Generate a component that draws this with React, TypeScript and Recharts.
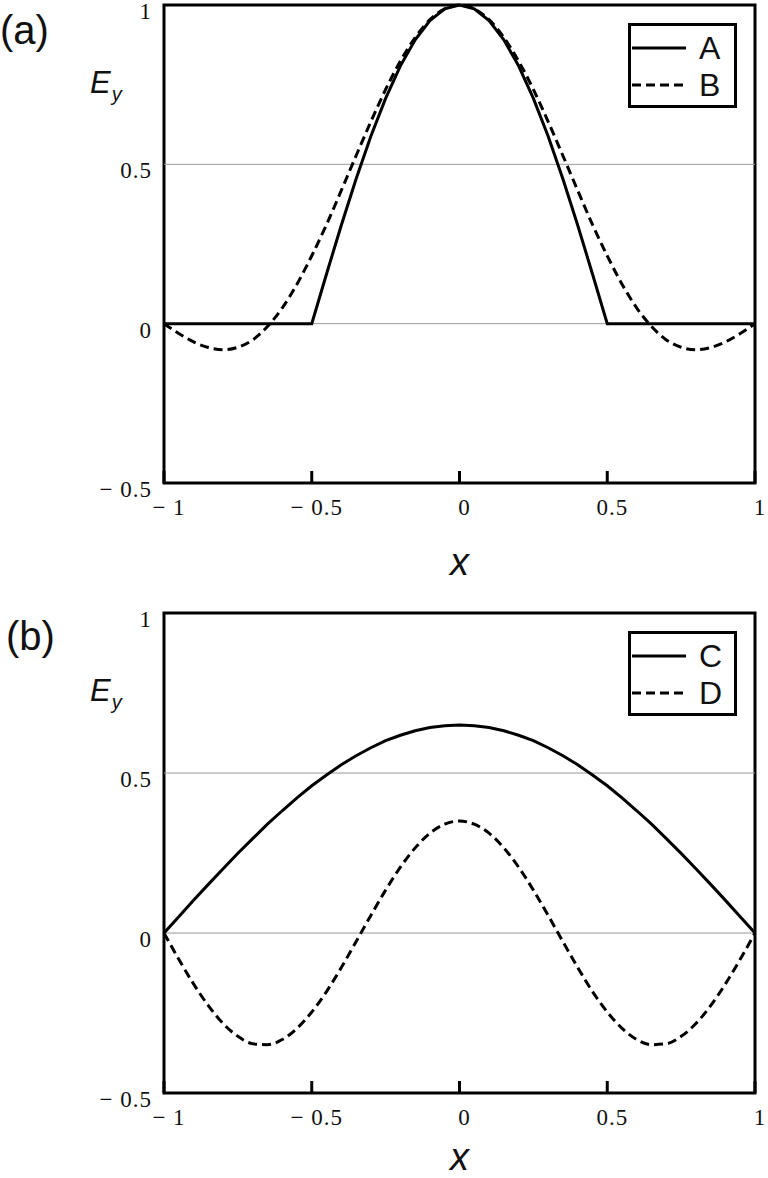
import React from "react";
import { LineChart, Line, XAxis, YAxis, ReferenceLine, ReferenceArea, Legend } from "recharts";

// sample positions along x
const xVals = [
  -1, -0.95, -0.9, -0.85, -0.8, -0.75, -0.7, -0.65, -0.6, -0.55, -0.5,
  -0.45, -0.4, -0.35, -0.3, -0.25, -0.2, -0.15, -0.1, -0.05, 0,
  0.05, 0.1, 0.15, 0.2, 0.25, 0.3, 0.35, 0.4, 0.45, 0.5,
  0.55, 0.6, 0.65, 0.7, 0.75, 0.8, 0.85, 0.9, 0.95, 1,
];

// panel (a)
const seriesA = [
  0, 0, 0, 0, 0, 0, 0, 0, 0, 0, 0,
  0.156, 0.309, 0.454, 0.588, 0.707, 0.809, 0.891, 0.951, 0.988, 1,
  0.988, 0.951, 0.891, 0.809, 0.707, 0.588, 0.454, 0.309, 0.156, 0,
  0, 0, 0, 0, 0, 0, 0, 0, 0, 0,
];
const seriesB = [
  0, -0.031, -0.057, -0.075, -0.082, -0.074, -0.051, -0.009, 0.049, 0.124, 0.213,
  0.311, 0.418, 0.527, 0.634, 0.735, 0.824, 0.898, 0.954, 0.988, 1,
  0.988, 0.954, 0.898, 0.824, 0.735, 0.634, 0.527, 0.418, 0.311, 0.213,
  0.124, 0.049, -0.009, -0.051, -0.074, -0.082, -0.075, -0.057, -0.031, 0,
];

// panel (b)
const seriesC = [
  0, 0.051, 0.102, 0.152, 0.201, 0.249, 0.295, 0.34, 0.382, 0.422, 0.46,
  0.494, 0.526, 0.554, 0.579, 0.601, 0.618, 0.632, 0.642, 0.648, 0.65,
  0.648, 0.642, 0.632, 0.618, 0.601, 0.579, 0.554, 0.526, 0.494, 0.46,
  0.422, 0.382, 0.34, 0.295, 0.249, 0.201, 0.152, 0.102, 0.051, 0,
];
const seriesD = [
  0, -0.082, -0.159, -0.227, -0.283, -0.323, -0.346, -0.349, -0.333, -0.298, -0.247,
  -0.183, -0.108, -0.027, 0.055, 0.134, 0.206, 0.266, 0.312, 0.34, 0.35,
  0.34, 0.312, 0.266, 0.206, 0.134, 0.055, -0.027, -0.108, -0.183, -0.247,
  -0.298, -0.333, -0.349, -0.346, -0.323, -0.283, -0.227, -0.159, -0.082, 0,
];

const xTicks = [-1, -0.5, 0, 0.5, 1];
const xTickLabels = ["− 1", "− 0.5", "0", "0.5", "1"];
const yTicks = [-0.5, 0, 0.5, 1];
const yTickLabels = ["− 0.5", "0", "0.5", "1"];

const serif = '"Liberation Serif", "Times New Roman", serif';
const sans = '"Liberation Sans", Arial, sans-serif';

const dataA = xVals.map((x, i) => ({ x, A: seriesA[i], B: seriesB[i] }));
const dataB = xVals.map((x, i) => ({ x, C: seriesC[i], D: seriesD[i] }));

const BottomTick = (props: any) => {
  const { x, y, payload } = props;
  const label = xTickLabels[xTicks.indexOf(payload.value)];
  return (
    <g>
      <line x1={x} x2={x} y1={y} y2={y - 12} stroke="#000" strokeWidth={3} />
      <text x={x + 5} y={y + 32} textAnchor="middle" fontFamily={serif} fontSize={23} letterSpacing={1} fill="#111">
        {label}
      </text>
    </g>
  );
};

const TopTick = (props: any) => {
  const { x, y } = props;
  return <line x1={x} x2={x} y1={y} y2={y + 12} stroke="#000" strokeWidth={3} />;
};

const LeftTick = (props: any) => {
  const { x, y, payload } = props;
  const label = yTickLabels[yTicks.indexOf(payload.value)];
  return (
    <text x={x - 12} y={y + 14} textAnchor="end" fontFamily={serif} fontSize={23} letterSpacing={1} fill="#111">
      {label}
    </text>
  );
};

const LegendBox = ({ names }: { names: string[] }) => (
  <div
    style={{
      position: "relative",
      width: 109,
      height: 85,
      border: "3px solid #000",
      boxSizing: "border-box",
      background: "#fff",
    }}
  >
    {names.map((n, i) => (
      <div
        key={n}
        style={{
          position: "absolute",
          left: 1,
          top: (i === 0 ? 25 : 62) - 3 - 16,
          height: 32,
          display: "flex",
          alignItems: "center",
        }}
      >
        <svg width={54} height={6} style={{ display: "block" }}>
          <line
            x1={0}
            x2={54}
            y1={3}
            y2={3}
            stroke="#000"
            strokeWidth={3}
            strokeDasharray={i === 0 ? undefined : "9 5"}
          />
        </svg>
        <span style={{ marginLeft: 13, fontFamily: sans, fontSize: 32, lineHeight: "32px", color: "#111" }}>{n}</span>
      </div>
    ))}
  </div>
);

const Panel = ({
  data,
  keys,
  top,
  height,
  xAxisHeight,
  xTitleOffset,
  tag,
  tagLeft,
  tagTop,
}: {
  data: any[];
  keys: string[];
  top: number;
  height: number;
  xAxisHeight: number;
  xTitleOffset: number;
  tag: string;
  tagLeft: number;
  tagTop: number;
}) => (
  <div style={{ position: "absolute", left: 0, top, width: 768, height }}>
    <div
      style={{
        position: "absolute",
        left: tagLeft,
        top: tagTop,
        fontFamily: sans,
        fontSize: 40,
        lineHeight: "40px",
        color: "#111",
        zIndex: 2,
      }}
    >
      {tag}
    </div>
    <LineChart width={768} height={height} data={data} margin={{ top: 5, right: 13, bottom: 0, left: 0 }}>
      <XAxis
        dataKey="x"
        type="number"
        domain={[-1, 1]}
        ticks={xTicks}
        axisLine={false}
        tickLine={false}
        tickSize={0}
        tickMargin={0}
        height={xAxisHeight}
        interval={0}
        tick={<BottomTick />}
        label={{
          content: (p: any) => {
            const vb = p.viewBox;
            return (
              <text
                x={vb.x + vb.width / 2}
                y={vb.y + xTitleOffset}
                textAnchor="middle"
                fontFamily={sans}
                fontStyle="italic"
                fontSize={38}
                fill="#111"
              >
                x
              </text>
            );
          },
        }}
      />
      <XAxis
        xAxisId="top"
        dataKey="x"
        type="number"
        orientation="top"
        domain={[-1, 1]}
        ticks={xTicks}
        axisLine={false}
        tickLine={false}
        tickSize={0}
        tickMargin={0}
        height={0}
        interval={0}
        tick={<TopTick />}
      />
      <YAxis
        type="number"
        domain={[-0.5, 1]}
        ticks={yTicks}
        axisLine={false}
        tickLine={false}
        tickSize={0}
        tickMargin={0}
        width={164}
        interval={0}
        tick={<LeftTick />}
        label={{
          content: (p: any) => {
            const vb = p.viewBox;
            return (
              <text x={90} y={vb.y + 88} fontFamily={sans} fontStyle="italic" fontSize={31} fill="#111">
                E
                <tspan fontSize={20} dy={8} dx={1}>
                  y
                </tspan>
              </text>
            );
          },
        }}
      />
      <ReferenceLine y={0.5} stroke="#9a9a9a" strokeWidth={1} />
      <ReferenceLine y={0} stroke="#9a9a9a" strokeWidth={1} />
      <Line
        dataKey={keys[0]}
        type="linear"
        stroke="#000"
        strokeWidth={3}
        dot={false}
        activeDot={false}
        isAnimationActive={false}
      />
      <Line
        dataKey={keys[1]}
        type="monotone"
        stroke="#000"
        strokeWidth={3}
        strokeDasharray="9 5"
        dot={false}
        activeDot={false}
        isAnimationActive={false}
      />
      <ReferenceArea x1={-1} x2={1} y1={-0.5} y2={1} fill="none" stroke="#000" strokeWidth={3} />
      <Legend
        layout="vertical"
        align="center"
        verticalAlign="middle"
        wrapperStyle={{ left: 628, top: 23, width: 109, height: 85 }}
        content={() => <LegendBox names={keys} />}
      />
    </LineChart>
  </div>
);

export default function App() {
  return (
    <div style={{ position: "absolute", left: 0, top: 0, width: 768, height: 1178, background: "#fff" }}>
      <Panel data={dataA} keys={["A", "B"]} top={0} height={600} xAxisHeight={117} xTitleOffset={92} tag="(a)" tagLeft={0} tagTop={10} />
      <Panel data={dataB} keys={["C", "D"]} top={608} height={570} xAxisHeight={85} xTitleOffset={77} tag="(b)" tagLeft={6} tagTop={8} />
    </div>
  );
}
